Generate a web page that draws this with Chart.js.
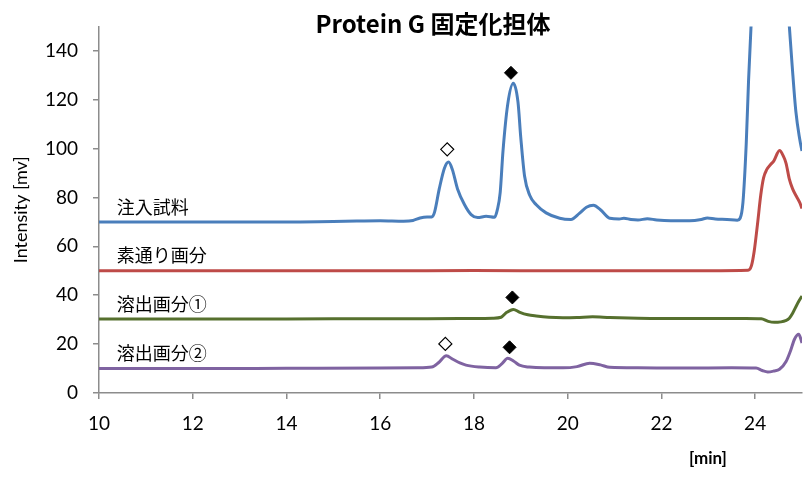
<!DOCTYPE html>
<html>
<head>
<meta charset="utf-8">
<script src="https://cdn.jsdelivr.net/npm/chart.js@4/dist/chart.umd.min.js"></script>
<style>
  html, body { margin: 0; padding: 0; background: #ffffff; }
  #wrap { width: 811px; height: 479px; }
</style>
</head>
<body>
<div id="wrap"><canvas id="c" width="811" height="479"></canvas></div>
<script>
// Chromatograms (retention time [min] vs intensity [mv]), each trace stacked on its own baseline
const seriesNames = ['注入試料', '素通り画分', '溶出画分①', '溶出画分②'];
const seriesBaselines = [70, 50, 30, 10];
const seriesColors = ['#4a7ebb', '#be4b48', '#56702e', '#7f63a1'];

const injT = [10, 11, 12, 13, 14, 15, 15.5, 16, 16.5, 16.7, 16.85, 17.0, 17.1, 17.16, 17.26, 17.37, 17.46, 17.54, 17.65, 17.8, 17.94, 18.08, 18.26, 18.44, 18.5, 18.56, 18.62, 18.72, 18.84, 18.94, 19.0, 19.08, 19.19, 19.33, 19.54, 19.83, 20.07, 20.25, 20.4, 20.55, 20.7, 20.9, 21.1, 21.2, 21.35, 21.5, 21.7, 21.9, 22.2, 22.6, 22.85, 22.98, 23.15, 23.4, 23.62, 23.68, 23.74, 23.81, 23.86, 23.91, 24.0, 24.2, 24.4, 24.6, 24.73, 24.79, 24.87, 24.95, 25.0];
const injV = [70, 70, 70, 70, 70, 70.2, 70.4, 70.5, 70.3, 70.6, 71.6, 72, 72, 74, 83.5, 92, 94.5, 91.4, 83.5, 77, 73, 71.8, 72.3, 71.9, 75, 82, 99, 118, 126.7, 119, 104.4, 88.8, 80.9, 77, 73.7, 71.5, 71, 73.5, 76, 76.8, 75, 71.5, 71.2, 71.5, 71, 70.8, 71.3, 70.8, 70.5, 70.5, 71, 71.6, 71.2, 71, 70.7, 71.5, 78, 102, 128, 149, 175, 200, 205, 185, 150, 134, 115, 104, 99];

const flowT = [10, 12, 14, 16, 18, 20, 22, 23, 23.85, 23.92, 23.98, 24.05, 24.12, 24.18, 24.25, 24.33, 24.4, 24.52, 24.6, 24.66, 24.73, 24.8, 24.88, 24.95, 25.0];
const flowV = [50, 50, 50, 50, 50.1, 50, 50, 50, 50.2, 52, 58, 69, 81, 88, 91.5, 93.5, 95, 99.2, 97, 94, 87.5, 83.5, 80.5, 78, 75.5];

const elu1T = [10, 12, 14, 16, 17, 18, 18.4, 18.58, 18.7, 18.84, 18.98, 19.15, 19.33, 19.6, 19.9, 20.2, 20.53, 20.9, 21.5, 22, 23, 23.8, 24.13, 24.28, 24.41, 24.55, 24.65, 24.73, 24.8, 24.87, 24.94, 25.0];
const elu1V = [30.3, 30.3, 30.3, 30.4, 30.4, 30.5, 30.6, 31, 33, 34.2, 33, 32, 31.5, 31, 30.8, 30.9, 31.2, 30.9, 30.6, 30.5, 30.5, 30.5, 30.4, 29.3, 28.9, 29.1, 29.6, 30.6, 32.6, 35.3, 37.8, 39.7];

const elu2T = [10, 12, 14, 16, 16.8, 17.1, 17.25, 17.41, 17.55, 17.7, 17.83, 18.12, 18.47, 18.6, 18.72, 18.85, 18.97, 19.18, 19.5, 19.9, 20.2, 20.47, 20.7, 20.9, 21.5, 22.5, 23.5, 24.02, 24.15, 24.27, 24.4, 24.52, 24.66, 24.75, 24.84, 24.93, 25.0];
const elu2V = [10, 10, 10.1, 10.2, 10.3, 10.6, 12.5, 15.2, 13.8, 12.3, 11.4, 10.6, 10.3, 12, 14.2, 13, 11.4, 10.6, 10.3, 10.3, 10.8, 12.2, 11.5, 10.5, 10.3, 10.2, 10.3, 10.2, 9.2, 8.6, 9, 9.7, 12.9, 17, 22, 24, 20.5];

// peak markers: filled ◆ and open ◇
const filledMarkT = [18.79, 18.82, 18.76];
const filledMarkV = [131, 39.1, 18.7];
const openMarkT = [17.43, 17.39];
const openMarkV = [99.7, 20.1];

const xTicks = [10, 12, 14, 16, 18, 20, 22, 24];
const yTicks = [0, 20, 40, 60, 80, 100, 120, 140];

const traces = [[injT, injV], [flowT, flowV], [elu1T, elu1V], [elu2T, elu2V]];
const toPoints = (ts, vs) => ts.map((t, i) => ({ x: t, y: vs[i] }));

const datasets = traces.map((tr, i) => ({
  label: seriesNames[i],
  data: toPoints(tr[0], tr[1]),
  borderColor: seriesColors[i],
  borderWidth: 3,
  pointRadius: 0,
  fill: false,
  cubicInterpolationMode: 'monotone',
  order: 2
}));
datasets.push({
  label: 'filled',
  data: toPoints(filledMarkT, filledMarkV),
  showLine: false,
  pointStyle: 'rectRot',
  pointRadius: 6.5,
  pointBackgroundColor: '#000000',
  pointBorderColor: '#000000',
  pointBorderWidth: 1,
  order: 1
});
datasets.push({
  label: 'open',
  data: toPoints(openMarkT, openMarkV),
  showLine: false,
  pointStyle: 'rectRot',
  pointRadius: 6.5,
  pointBackgroundColor: '#ffffff',
  pointBorderColor: '#000000',
  pointBorderWidth: 1.2,
  order: 1
});

const AXIS_GRAY = '#8c8c8c';
const TICK_FONT = { family: 'Lato', size: 19 };

// captions: chart title, x-axis unit, trace names next to each baseline
const captions = {
  id: 'captions',
  afterDatasetsDraw(chart) {
    const { ctx, scales } = chart;
    ctx.save();
    ctx.fillStyle = '#000000';
    ctx.textBaseline = 'middle';
    ctx.textAlign = 'center';
    ctx.font = 'bold 24px "Noto Sans CJK JP"';
    ctx.fillText('Protein G 固定化担体', 433, 24);
    ctx.font = 'bold 17px Lato';
    ctx.fillText('[min]', 708, 459);
    ctx.textAlign = 'left';
    ctx.font = '18px "Noto Sans CJK JP"';
    seriesNames.forEach((name, i) => {
      const px = scales.x.getPixelForValue(10.38);
      const py = scales.y.getPixelForValue(seriesBaselines[i] + 6.2);
      ctx.fillText(name, px, py);
    });
    ctx.restore();
  }
};

new Chart(document.getElementById('c'), {
  type: 'line',
  data: { datasets },
  plugins: [captions],
  options: {
    responsive: false,
    animation: false,
    events: [],
    layout: { padding: { left: 0, right: 9, top: 0, bottom: 0 } },
    plugins: {
      legend: { display: false },
      tooltip: { enabled: false },
      title: { display: false }
    },
    scales: {
      x: {
        type: 'linear',
        min: 10,
        max: 25,
        afterBuildTicks: s => { s.ticks = xTicks.map(v => ({ value: v })); },
        afterFit: s => { s.height = 86; },
        grid: { drawOnChartArea: false, drawTicks: true, tickLength: 6, color: AXIS_GRAY, lineWidth: 1.5 },
        border: { color: AXIS_GRAY, width: 1.5 },
        ticks: { font: TICK_FONT, color: '#000000', padding: 13, maxRotation: 0, autoSkip: false }
      },
      y: {
        min: 0,
        max: 150,
        afterBuildTicks: s => { s.ticks = yTicks.map(v => ({ value: v })); },
        afterFit: s => { s.width = 99; },
        grid: { drawOnChartArea: false, drawTicks: true, tickLength: 6, color: AXIS_GRAY, lineWidth: 1.5 },
        border: { color: AXIS_GRAY, width: 1.5 },
        ticks: { font: TICK_FONT, color: '#000000', padding: 15, autoSkip: false },
        title: {
          display: true,
          text: 'Intensity [mv]',
          font: { family: 'Lato', size: 18 },
          color: '#000000',
          padding: { top: 10, bottom: 0 }
        }
      }
    }
  }
});
</script>
</body>
</html>
